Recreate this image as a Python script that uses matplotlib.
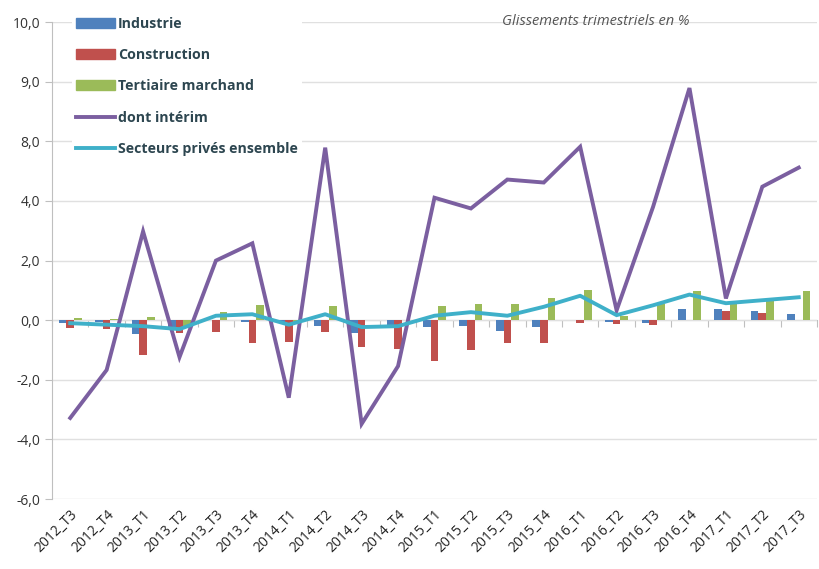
import matplotlib.pyplot as plt
import matplotlib.patches as mpatches
from matplotlib.lines import Line2D
import numpy as np

trimestres = ["2012_T3", "2012_T4", "2013_T1", "2013_T2", "2013_T3", "2013_T4",
              "2014_T1", "2014_T2", "2014_T3", "2014_T4", "2015_T1", "2015_T2",
              "2015_T3", "2015_T4", "2016_T1", "2016_T2", "2016_T3", "2016_T4",
              "2017_T1", "2017_T2", "2017_T3"]

industrie = [-0.10, -0.05, -0.47, -0.33, 0.00, -0.05, -0.05, -0.20, -0.42, -0.17, -0.24,
             -0.20, -0.36, -0.22, 0.00, -0.05, -0.09, 0.39, 0.36, 0.31, 0.20]
construction = [-0.27, -0.30, -1.17, -0.43, -0.40, -0.78, -0.72, -0.39, -0.90, -0.95, -1.36,
                -1.00, -0.75, -0.75, -0.11, -0.13, -0.17, 0.00, 0.30, 0.24, 0.00]
tertiaire = [0.07, 0.05, 0.10, -0.25, 0.27, 0.50, -0.10, 0.48, 0.02, 0.02, 0.48,
             0.53, 0.56, 0.75, 1.00, 0.15, 0.56, 0.98, 0.61, 0.67, 0.98]
interim = [-3.28, -1.67, 2.98, -1.24, 2.00, 2.58, -2.60, 5.79, -3.48, -1.54, 4.11,
           3.75, 4.72, 4.62, 5.82, 0.33, 3.80, 7.79, 0.73, 4.48, 5.12]
ensemble = [-0.10, -0.15, -0.20, -0.30, 0.15, 0.20, -0.15, 0.20, -0.23, -0.20, 0.15,
            0.27, 0.15, 0.45, 0.82, 0.17, 0.50, 0.86, 0.57, 0.67, 0.77]

ytick_pos = [-6, -4, -2, 0, 2, 4, 6, 8, 10]
ytick_labels = ["-6,0", "-4,0", "-2,0", "0,0", "2,0", "4,0", "8,0", "9,0", "10,0"]

c_ind = "#4F81BD"
c_con = "#C0504D"
c_ter = "#9BBB59"
c_int = "#7B5FA0"
c_ens = "#3FB0C9"
txt = "#2d4650"

plt.rcParams["font.family"] = ["Open Sans", "DejaVu Sans"]

fig = plt.figure(figsize=(8.19, 5.69), dpi=100)
ax = fig.add_axes([0.0635, 0.123, 0.934, 0.838])

x = np.arange(len(trimestres))
w = 0.21
ax.bar(x - w, industrie, w, color=c_ind, zorder=2)
ax.bar(x, construction, w, color=c_con, zorder=2)
ax.bar(x + w, tertiaire, w, color=c_ter, zorder=2)
ax.plot(x, interim, color=c_int, lw=2.8, zorder=3, solid_joinstyle="miter")
ax.plot(x, ensemble, color=c_ens, lw=2.8, zorder=4)

ax.set_xlim(-0.5, len(trimestres) - 0.5)
ax.set_ylim(-6, 10)
ax.set_yticks(ytick_pos)
ax.set_yticklabels(ytick_labels)
ax.grid(axis="y", color="#e0e0e0", lw=1, zorder=0)
ax.set_axisbelow(True)

for s in ["top", "right", "bottom"]:
    ax.spines[s].set_visible(False)
ax.spines["left"].set_color("#bfbfbf")
ax.tick_params(axis="y", colors="#bfbfbf", labelcolor="#333333", labelsize=10, length=5)

ax.set_xticks(x)
ax.set_xticklabels(trimestres, rotation=45, ha="right", rotation_mode="anchor",
                   fontsize=10, color="#222222")
ax.tick_params(axis="x", length=0, pad=6)

# axe horizontal au niveau zero avec petites graduations entre trimestres
sec = ax.secondary_xaxis(6 / 16)
sec.set_xticks(np.arange(len(trimestres) + 1) - 0.5)
sec.set_xticklabels([])
sec.spines["bottom"].set_color("#bfbfbf")
sec.tick_params(axis="x", colors="#bfbfbf", length=5, direction="out")

handles = [
    mpatches.Patch(color=c_ind, label="Industrie"),
    mpatches.Patch(color=c_con, label="Construction"),
    mpatches.Patch(color=c_ter, label="Tertiaire marchand"),
    Line2D([], [], color=c_int, lw=2.8, label="dont intérim"),
    Line2D([], [], color=c_ens, lw=2.8, label="Secteurs privés ensemble"),
]
leg = ax.legend(handles=handles, loc="upper left", bbox_to_anchor=(0.088, 0.978),
                bbox_transform=fig.transFigure, frameon=True, facecolor="white",
                edgecolor="none", framealpha=1, handlelength=2.75, handleheight=0.7,
                handletextpad=0.2, labelspacing=1.22, borderaxespad=0, borderpad=0.3,
                prop={"weight": "bold", "size": 10.2})
for t in leg.get_texts():
    t.set_color(txt)

fig.text(0.842, 0.962, "Glissements trimestriels en %", style="italic",
         fontsize=10.5, color="#555555", ha="right", va="center")

fig.savefig("out.png", dpi=100)
